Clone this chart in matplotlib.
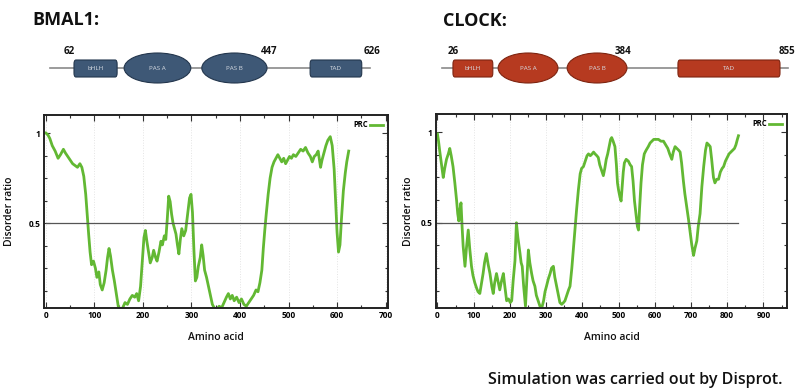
import numpy as np
import matplotlib
matplotlib.use("Agg")
import matplotlib.pyplot as plt
from matplotlib.patches import FancyBboxPatch, Ellipse
from matplotlib.ticker import MultipleLocator

plt.rcParams['font.family'] = ['Open Sans', 'DejaVu Sans']

# --- disorder profiles (amino acid, disorder ratio) ---
bmal1_aa = [0, 4, 8, 13, 19, 25, 30, 36, 40, 45, 50, 55, 60, 65, 70, 74, 78, 82, 85, 88,
            91, 94, 98, 102, 105, 109, 112, 116, 120, 124, 127, 130, 133, 137, 141, 145,
            149, 153, 158, 163, 168, 173, 178, 183, 187, 191, 195, 199, 202, 205, 208, 212,
            215, 219, 222, 226, 229, 233, 237, 240, 244, 247, 250, 253, 256, 259, 262, 265,
            268, 271, 274, 277, 280, 284, 288, 292, 296, 299, 302, 305, 308, 311, 314, 318,
            321, 324, 327, 331, 335, 339, 343, 347, 352, 357, 362, 367, 372, 376, 380, 384,
            388, 393, 398, 403, 408, 413, 418, 423, 428, 433, 437, 441, 445, 448, 451, 454,
            458, 462, 466, 470, 474, 478, 482, 486, 490, 494, 498, 502, 506, 510, 515, 520,
            525, 530, 535, 540, 545, 549, 553, 557, 561, 566, 569, 573, 577, 581, 586, 590,
            594, 597, 600, 603, 606, 609, 613, 617, 620, 624]
bmal1_dis = [1.00, 0.99, 0.97, 0.93, 0.90, 0.86, 0.88, 0.91, 0.89, 0.87, 0.85, 0.83, 0.82,
             0.81, 0.83, 0.81, 0.76, 0.66, 0.55, 0.44, 0.34, 0.27, 0.29, 0.25, 0.20, 0.23,
             0.16, 0.13, 0.17, 0.24, 0.31, 0.36, 0.32, 0.24, 0.18, 0.11, 0.04, 0.02, 0.03,
             0.06, 0.05, 0.08, 0.10, 0.09, 0.11, 0.07, 0.15, 0.30, 0.42, 0.46, 0.40, 0.33,
             0.28, 0.31, 0.35, 0.31, 0.29, 0.34, 0.40, 0.38, 0.43, 0.41, 0.52, 0.65, 0.62,
             0.55, 0.50, 0.47, 0.44, 0.38, 0.33, 0.41, 0.47, 0.43, 0.46, 0.55, 0.64, 0.66,
             0.56, 0.35, 0.18, 0.20, 0.26, 0.31, 0.38, 0.32, 0.24, 0.20, 0.15, 0.10, 0.05,
             0.03, 0.02, 0.04, 0.03, 0.06, 0.09, 0.11, 0.08, 0.10, 0.07, 0.09, 0.06, 0.08,
             0.05, 0.04, 0.06, 0.08, 0.10, 0.13, 0.12, 0.17, 0.24, 0.36, 0.46, 0.55, 0.66,
             0.75, 0.81, 0.84, 0.86, 0.88, 0.86, 0.84, 0.86, 0.83, 0.85, 0.87, 0.86, 0.88,
             0.87, 0.89, 0.91, 0.90, 0.92, 0.89, 0.87, 0.84, 0.87, 0.88, 0.90, 0.81, 0.85,
             0.89, 0.93, 0.96, 0.98, 0.93, 0.80, 0.62, 0.45, 0.34, 0.38, 0.52, 0.68, 0.78,
             0.84, 0.90]

clock_aa = [0, 3, 6, 10, 16, 20, 25, 30, 34, 38, 43, 48, 53, 56, 59, 62, 65, 68, 71, 74,
            76, 80, 85, 89, 94, 98, 103, 108, 112, 117, 121, 126, 130, 135, 140, 145, 150,
            154, 158, 163, 167, 172, 177, 182, 186, 191, 196, 201, 205, 209, 214, 218, 222,
            228, 231, 234, 238, 243, 247, 251, 255, 260, 264, 269, 273, 278, 283, 288, 293,
            297, 301, 306, 311, 315, 320, 324, 329, 334, 338, 343, 348, 352, 357, 362, 366,
            371, 375, 380, 384, 389, 394, 398, 403, 408, 413, 417, 422, 427, 431, 435, 440,
            444, 448, 453, 458, 462, 466, 470, 474, 478, 481, 485, 490, 494, 497, 500, 504,
            507, 510, 513, 516, 521, 527, 532, 536, 540, 544, 548, 552, 555, 558, 562, 566,
            571, 576, 582, 587, 592, 597, 603, 610, 617, 624, 630, 636, 641, 647, 651, 656,
            661, 666, 670, 674, 679, 683, 688, 693, 698, 702, 707, 711, 716, 720, 725, 730,
            735, 740, 744, 749, 753, 757, 762, 766, 771, 776, 781, 786, 790, 795, 800, 805,
            810, 815, 820, 824, 828, 831]
clock_dis = [0.99, 0.95, 0.90, 0.84, 0.75, 0.80, 0.85, 0.88, 0.91, 0.87, 0.81, 0.72, 0.62,
             0.55, 0.51, 0.57, 0.61, 0.48, 0.37, 0.30, 0.26, 0.36, 0.46, 0.36, 0.26, 0.21,
             0.17, 0.14, 0.12, 0.11, 0.16, 0.22, 0.28, 0.33, 0.27, 0.22, 0.15, 0.11, 0.17,
             0.22, 0.18, 0.13, 0.18, 0.22, 0.15, 0.07, 0.08, 0.06, 0.07, 0.18, 0.29, 0.50,
             0.42, 0.33, 0.28, 0.26, 0.15, 0.04, 0.20, 0.35, 0.28, 0.22, 0.18, 0.15, 0.10,
             0.07, 0.04, 0.03, 0.07, 0.12, 0.15, 0.19, 0.22, 0.25, 0.26, 0.20, 0.15, 0.10,
             0.06, 0.05, 0.06, 0.07, 0.10, 0.13, 0.15, 0.25, 0.35, 0.47, 0.57, 0.68, 0.77,
             0.80, 0.81, 0.84, 0.87, 0.88, 0.87, 0.88, 0.89, 0.88, 0.87, 0.86, 0.82, 0.79,
             0.76, 0.80, 0.85, 0.88, 0.92, 0.96, 0.97, 0.95, 0.92, 0.82, 0.72, 0.68, 0.64,
             0.62, 0.70, 0.78, 0.83, 0.85, 0.84, 0.82, 0.81, 0.73, 0.62, 0.55, 0.48, 0.46,
             0.58, 0.72, 0.82, 0.88, 0.90, 0.92, 0.94, 0.95, 0.96, 0.96, 0.96, 0.95, 0.95,
             0.93, 0.91, 0.88, 0.85, 0.89, 0.92, 0.91, 0.90, 0.89, 0.83, 0.73, 0.66, 0.59,
             0.52, 0.44, 0.38, 0.32, 0.36, 0.40, 0.48, 0.55, 0.70, 0.81, 0.90, 0.94, 0.93,
             0.92, 0.85, 0.75, 0.72, 0.74, 0.74, 0.78, 0.80, 0.81, 0.84, 0.86, 0.88, 0.89,
             0.90, 0.91, 0.93, 0.96, 0.98]

threshold = 0.5

# --- domain schematics (schematic amino acid units) ---
bmal1_domains = [("bHLH", "box", 62, 148), ("PAS A", "oval", 162, 295),
                 ("PAS B", "oval", 317, 447), ("TAD", "box", 533, 636)]
bmal1_span = (14, 652)
bmal1_marks = [("62", 52), ("447", 451), ("626", 656)]

clock_domains = [("bHLH", "box", 26, 108), ("PAS A", "oval", 119, 242),
                 ("PAS B", "oval", 261, 384), ("TAD", "box", 489, 699)]
clock_span = (3, 715)
clock_marks = [("26", 26), ("384", 376), ("855", 713)]

W, H = 797, 392
fig = plt.figure(figsize=(W / 100, H / 100), dpi=100)
fig.patch.set_facecolor("white")

green = "#62b833"


def profile(rect, aa, dis, xmax, xticks, ylabel_x):
    ax = fig.add_axes(rect)
    ax.plot(aa, dis, color=green, lw=2.0, label="PRC", solid_joinstyle="round")
    ax.plot([aa[0], aa[-1]], [threshold, threshold], color="#555555", lw=0.9)
    ax.set_xlim(-4, xmax)
    ax.set_ylim(0.03, 1.1)
    ax.set_xticks(xticks)
    ax.set_xticklabels([str(t) for t in xticks])
    ax.set_yticks([0.5, 1.0])
    ax.set_yticklabels(["0.5", "1"])
    ax.xaxis.set_minor_locator(MultipleLocator(50))
    ax.yaxis.set_minor_locator(MultipleLocator(0.125))
    ax.tick_params(which="both", direction="in", top=True, right=True,
                   width=0.8, color="#333333")
    ax.tick_params(which="major", length=4, labelsize=6, pad=2.5)
    ax.tick_params(which="minor", length=2)
    for lab in ax.get_xticklabels() + ax.get_yticklabels():
        lab.set_fontweight("bold")
    for s in ax.spines.values():
        s.set_linewidth(1.4)
        s.set_color("#222222")
    ax.grid(axis="x", color="#e4e4e4", ls=":", lw=0.7)
    ax.set_xlabel("Amino acid", fontsize=7.5, fontweight="semibold", labelpad=8,
                  color="#111111")
    ax.set_ylabel("Disorder ratio", fontsize=7.5, fontweight="semibold", color="#111111")
    ax.yaxis.set_label_coords(ylabel_x, 0.5)
    ax.legend(loc="upper right", frameon=False, markerfirst=False,
              handlelength=1.6, handletextpad=0.3, borderaxespad=0.3,
              prop={"size": 5.5, "weight": "bold"})
    return ax


profile([44 / W, 1 - 308 / H, 344 / W, 193 / H], bmal1_aa, bmal1_dis, 705,
        list(range(0, 701, 100)), -0.085)
profile([436 / W, 1 - 308 / H, 351 / W, 194 / H], clock_aa, clock_dis, 965,
        list(range(0, 901, 100)), -0.062)


def schematic(x0px, x1px, aa_lo, aa_hi, span, domains, marks, face, edge):
    ax = fig.add_axes([x0px / W, 0, (x1px - x0px) / W, 1])
    ax.set_xlim(aa_lo, aa_hi)
    ax.set_ylim(H, 0)
    ax.axis("off")
    ax.plot(span, [68, 68], color="#8a8a8a", lw=1.2, zorder=1)
    for name, kind, a, b in domains:
        if kind == "box":
            p = FancyBboxPatch((a, 60), b - a, 17,
                               boxstyle="round,pad=0,rounding_size=4",
                               mutation_aspect=1, fc=face, ec=edge, lw=0.8, zorder=2)
            ax.add_patch(p)
        else:
            p = Ellipse(((a + b) / 2, 68), b - a, 30, fc=face, ec=edge, lw=0.8, zorder=2)
            ax.add_patch(p)
        ax.text((a + b) / 2, 68.5, name, color="#d8dde4", fontsize=4.5,
                ha="center", va="center", zorder=3)
    for txt, pos in marks:
        ax.text(pos, 51, txt, fontsize=7, fontweight="bold", ha="center",
                va="center", color="#111111")


schematic(0, 400, -85.6, 712.3, bmal1_span, bmal1_domains, bmal1_marks,
          "#3e5876", "#23364d")
schematic(400, 797, -83, 734, clock_span, clock_domains, clock_marks,
          "#b63a20", "#7e2410")

fig.text(32 / W, 1 - 20 / H, "BMAL1:", fontsize=13, fontweight="bold",
         ha="left", va="center", color="#111111")
fig.text(443 / W, 1 - 21 / H, "CLOCK:", fontsize=13, fontweight="bold",
         ha="left", va="center", color="#111111")
fig.text(488 / W, 1 - 380 / H, "Simulation was carried out by Disprot.",
         fontsize=11.5, fontweight="semibold", ha="left", va="center", color="#111111")

fig.savefig("out.png", dpi=100, facecolor="white")
